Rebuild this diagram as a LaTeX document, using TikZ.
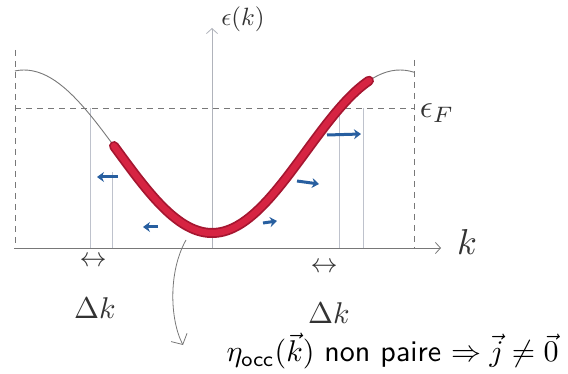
\documentclass[tikz,border=0pt]{standalone}
\usepackage{amsmath,amssymb}
\usepackage{tikz}
\usetikzlibrary{arrows.meta,positioning,calc}
\definecolor{bandred}{RGB}{214,36,66}
\definecolor{bandedge}{RGB}{165,22,48}
\definecolor{velblue}{RGB}{40,95,160}
\definecolor{pencil}{RGB}{120,120,120}
\definecolor{faint}{RGB}{190,194,204}
\tikzset{
  axis/.style={draw=pencil, line width=0.8pt, -{Straight Barb[length=5pt,width=11pt]}},
  guide/.style={draw=faint, line width=0.7pt},
  fermi/.style={draw=pencil, line width=0.7pt, dash pattern=on 6pt off 5pt},
  vel/.style={draw=velblue, line width=3pt, -{Stealth[length=7pt,width=10pt]}},
  hand/.style={text=black!80, inner sep=0pt},
}

\begin{document}
\begin{tikzpicture}[x=1pt,y=-1pt]
    \useasboundingbox (0,0) rectangle (568,374);

    % Fermi level and zone edges
    \draw[fermi] (15,108) -- (414,108);
    \draw[fermi] (15,50) -- (15,248);
    \draw[fermi] (414,60) -- (414,248);

    % Delta k guides
    \draw[guide] (90,108) -- (90,248);
    \draw[guide] (112,172) -- (112,248);
    \draw[guide] (339,108) -- (339,248);
    \draw[guide] (363,108) -- (363,248);

    % axes
    \draw[axis] (14,248) -- (441,248);
    \draw[axis, draw=faint!80!pencil] (212,248) -- (212,28);
    \node[hand, scale=2.5] (eps) at (243,19) {$\epsilon(k)$};
    \node[hand, scale=3.6] (kax) at (467,242) {$k$};
    \node[hand, scale=3.2] (epsF) at (437,113) {$\epsilon_F$};

    % band
    \draw[pencil, line width=0.9pt] plot[domain=15:414, samples=90] (\x, {151.5+81.5*cos(0.9574*(\x-212))});
    \draw[bandedge, line width=10pt, line cap=round] plot[domain=114:369, samples=80] (\x, {151.5+81.5*cos(0.9574*(\x-212))});
    \draw[bandred, line width=6.5pt, line cap=round] plot[domain=114:369, samples=80] (\x, {151.5+81.5*cos(0.9574*(\x-212))});

    % velocities
    \draw[vel] (118,177) -- (97,177);
    \draw[vel] (158,227) -- (143,227);
    \draw[vel] (263,223) -- (277,221);
    \draw[vel] (297,181) -- (319,184);
    \draw[vel] (327,135) -- (361,134);

    % Delta k
    \node[hand, scale=2.7] (dl) at (93,262) {$\leftrightarrow$};
    \node[hand, scale=2.7] (dr) at (324,268) {$\leftrightarrow$};
    \node[hand, scale=3] (Dkl) at (95,308) {$\Delta k$};
    \node[hand, scale=3] (Dkr) at (329,313) {$\Delta k$};

    % occupation
    \coordinate (dip) at (186,240);
    \coordinate (mark) at (183,345);
    \draw[pencil, line width=0.8pt, -{Straight Barb[length=8pt,width=18pt]}] (dip) .. controls (168,272) and (170,320) .. (mark);
    \node[anchor=west, inner sep=0pt, scale=3] (claim) at (226,351)
        {$\eta_{\textsf{occ}}(\vec{k})$ \textsf{non paire} $\Rightarrow \vec{j}\neq\vec{0}$};
\end{tikzpicture}
\end{document}
